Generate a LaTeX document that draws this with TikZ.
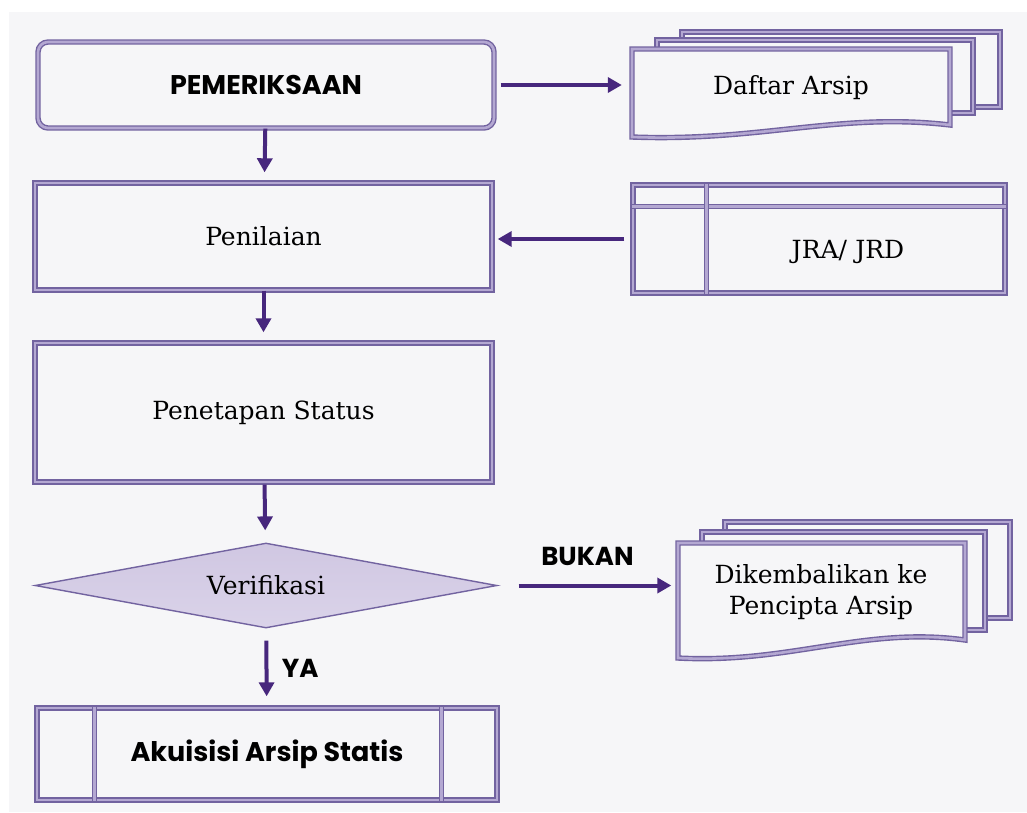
\documentclass[tikz,border=0pt]{standalone}
\usepackage{fontspec}
\usepackage{tikz}
\usetikzlibrary{shapes.geometric, arrows.meta}

\setmainfont{DejaVu Serif}
\newfontfamily\heavyfont{Poppins}

\definecolor{paper}{HTML}{F6F6F8}
\definecolor{borderdark}{HTML}{7263A0}
\definecolor{borderlight}{HTML}{B4A8D2}
\definecolor{arrowpurple}{HTML}{47277D}
\definecolor{diamondtop}{HTML}{D0C7E2}
\definecolor{diamondbot}{HTML}{DAD3E9}

\begin{document}
\begin{tikzpicture}[x=1pt, y=-1pt,
    frame/.style={draw=borderdark, line width=1.4pt, double=borlite, double distance=2.6pt},
    box/.style={frame, fill=paper, inner sep=0pt,
        font=\fontsize{25}{30}\selectfont},
    boldbox/.style={font=\heavyfont\bfseries\fontsize{27}{32}\selectfont},
    boldlabel/.style={text=black, font=\heavyfont\bfseries\fontsize{26}{30}\selectfont},
    doctext/.style={inner sep=0pt, align=center,
        font=\fontsize{25}{31}\selectfont},
    flow/.style={arrowpurple, line width=4pt, -{Triangle[length=14pt, width=15pt]}}
]
    \colorlet{borlite}{borderlight}
    \useasboundingbox (0,0) rectangle (1027,812);
    \fill[white] (0,0) rectangle (1027,812);
    \fill[paper] (9,12) rectangle (1027,812);

    % Draw the document stacks behind their labels
    \filldraw[frame, fill=paper] (682,32) rectangle (1000,107);
    \filldraw[frame, fill=paper] (657,40) rectangle (973,113);
    \filldraw[frame, fill=paper] (632,49) -- (950,49) -- (950,125)
        .. controls (840,112) and (760,142) .. (632,137) -- cycle;

    \filldraw[frame, fill=paper] (725,522) rectangle (1010,618);
    \filldraw[frame, fill=paper] (702,532) rectangle (985,630);
    \filldraw[frame, fill=paper] (678,543) -- (965,543) -- (965,640)
        .. controls (865,626) and (790,664) .. (678,658) -- cycle;

    % Draw the process boxes
    \node[box, boldbox, rounded corners=10pt, minimum width=456pt, minimum height=86pt]
        (periksa) at (266,85) {PEMERIKSAAN};
    \node[box, minimum width=457pt, minimum height=107pt] (nilai) at (263.5,236.5) {Penilaian};
    \node[box, minimum width=457pt, minimum height=139pt] (status) at (263.5,412.5) {Penetapan Status};
    \node[diamond, shape aspect=5.4, draw=borderdark, line width=1.4pt,
        top color=diamondtop, bottom color=diamondbot,
        minimum width=462pt, minimum height=85pt, inner sep=0pt,
        font=\fontsize{25}{30}\selectfont] (verif) at (266,585.5) {Verifikasi};
    \node[box, boldbox, minimum width=460pt, minimum height=92pt]
        (akuisisi) at (267,754) {Akuisisi Arsip Statis};
    \node[box, minimum width=372pt, minimum height=108pt, text width=298pt, align=center]
        (jra) at (819,239) {\hspace*{58pt}\raisebox{-19pt}[0pt][0pt]{JRA/ JRD}};

    % Draw the inner lines of the framed boxes
    \draw[frame] ([yshift=-22pt]jra.north west) -- ([yshift=-22pt]jra.north east);
    \draw[frame] ([xshift=74pt]jra.north west) -- ([xshift=74pt]jra.south west);
    \draw[frame] ([xshift=58pt]akuisisi.north west) -- ([xshift=58pt]akuisisi.south west);
    \draw[frame] ([xshift=-56pt]akuisisi.north east) -- ([xshift=-56pt]akuisisi.south east);

    % Labels of the document stacks
    \node[doctext, minimum width=318pt] (daftar) at (791,88) {Daftar Arsip};
    \node[doctext, minimum width=287pt] (kembali) at (821,592) {Dikembalikan ke\\Pencipta Arsip};

    % Draw the flow arrows
    \draw[flow, shorten >=10pt] (periksa) -- (nilai);
    \draw[flow, shorten >=10pt] (nilai) -- (status);
    \draw[flow, shorten <=2pt, shorten >=12pt] (status) -- (verif);
    \draw[flow, shorten <=12pt, shorten >=11pt] (verif) -- (akuisisi)
        node[midway, right=10pt, boldlabel] (ya) {YA};
    \draw[flow, shorten <=6pt, shorten >=10pt] (periksa.east) -- (periksa.east -| daftar.west);
    \draw[flow, shorten <=8pt, shorten >=5pt] (jra.west) -- (jra.west -| nilai.east);
    \draw[flow, shorten <=21pt, shorten >=6pt] (verif.east) -- (verif.east -| kembali.west)
        node[midway, above=14pt, boldlabel] (bukan) {BUKAN};

\end{tikzpicture}
\end{document}
